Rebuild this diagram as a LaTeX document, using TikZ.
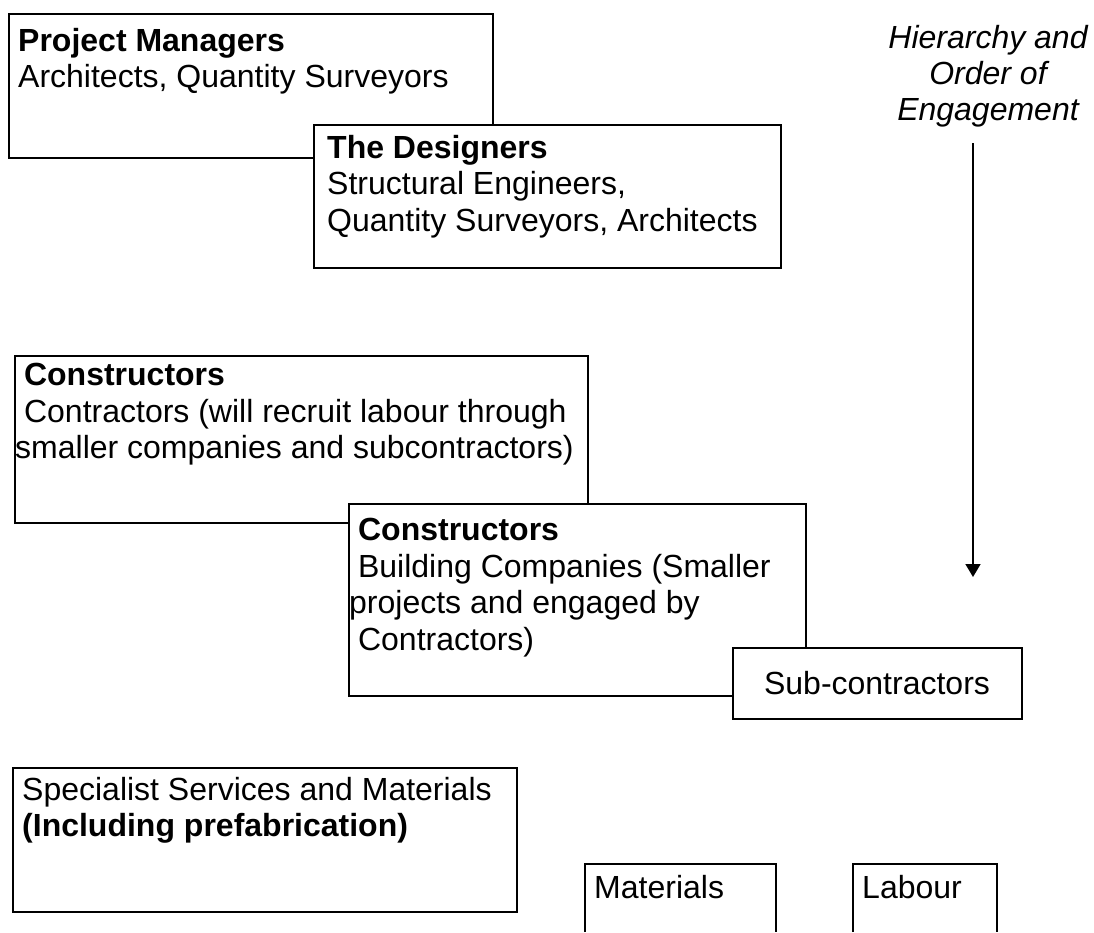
\documentclass[tikz,border=0pt]{standalone}
\usepackage{fontspec}
\setmainfont{Liberation Sans}
\usetikzlibrary{arrows.meta}

\begin{document}
\begin{tikzpicture}[x=1pt,y=-1pt,
  box/.style={draw,line width=1.8pt,fill=white},
  boxtext/.style={anchor=north west,align=left,inner sep=0pt,font=\fontsize{32}{36.5}\selectfont},
  flow/.style={line width=1.6pt,-{Triangle[length=13pt,width=15pt]}}]
 \useasboundingbox (0,0) rectangle (1094,932);

 % upper pair
 \draw[box] (9,14) rectangle (493,158);
 \node[boxtext] (pm) at (18,28) {\textbf{Project Managers}\\Architects, Quantity Surveyors};
 \draw[box] (314,125) rectangle (781,268);
 \node[boxtext] (des) at (327,135) {\textbf{The Designers}\\Structural Engineers,\\Quantity Surveyors, Architects};

 % constructors
 \draw[box] (15,356) rectangle (588,523);
 \node[boxtext] (contr) at (15,363) {\ \textbf{Constructors}\\\ Contractors (will recruit labour through\\smaller companies and subcontractors)};
 \draw[box] (349,504) rectangle (806,696);
 \node[boxtext] (build) at (349,518) {\ \textbf{Constructors}\\\ Building Companies (Smaller\\projects and engaged by\\\ Contractors)};
 \draw[box] (733,648) rectangle (1022,719);
 \node[font=\fontsize{32}{36.5}\selectfont,inner sep=0pt] (sub) at (877,683) {Sub-contractors};

 % bottom row
 \draw[box] (13,768) rectangle (517,912);
 \node[boxtext] (spec) at (22,777) {Specialist Services and Materials\\\textbf{(Including prefabrication)}};
 \draw[box] (585,932) |- (776,864) -- (776,932);
 \node[boxtext] (mat) at (594,875) {Materials};
 \draw[box] (853,932) |- (997,864) -- (997,932);
 \node[boxtext] (lab) at (862,875) {Labour};

 % order of engagement
 \node[anchor=north,align=center,inner sep=0pt,font=\fontsize{32}{36}\selectfont\itshape] (hier) at (988,25) {Hierarchy and\\Order of\\Engagement};
 \coordinate (top) at (973,143);
 \coordinate (bot) at (973,577);
 \draw[flow] (top) -- (bot);
\end{tikzpicture}
\end{document}
